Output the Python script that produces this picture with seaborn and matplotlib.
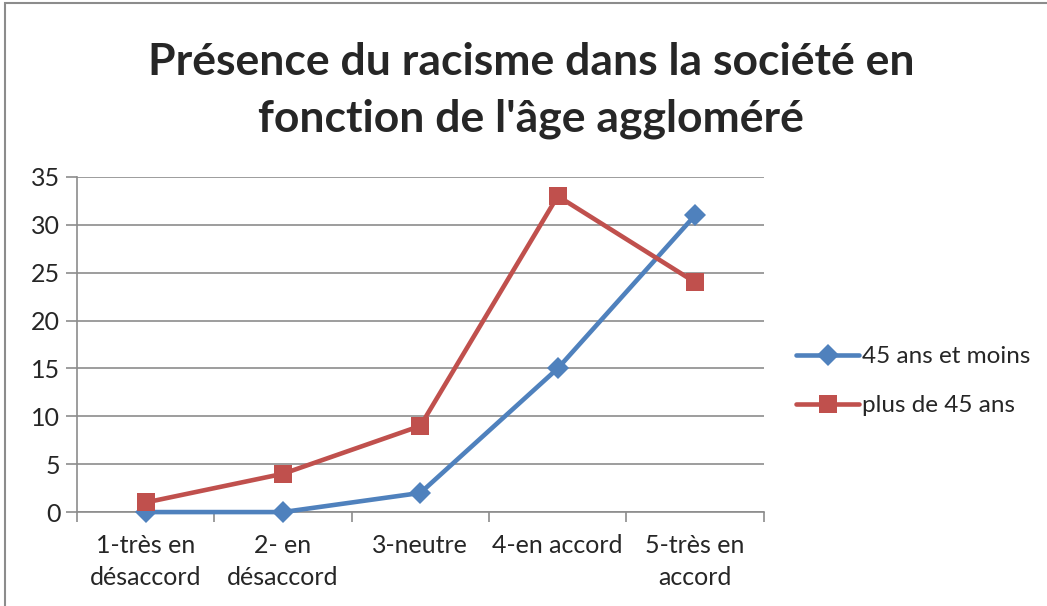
import numpy as np
import pandas as pd
import matplotlib.pyplot as plt
import seaborn as sns
from matplotlib.patches import Rectangle

categories = ["1-très en\ndésaccord", "2- en\ndésaccord", "3-neutre", "4-en accord", "5-très en\naccord"]
moins_45 = [0, 0, 2, 15, 31]
plus_45 = [1, 4, 9, 33, 24]
series_names = ["45 ans et moins", "plus de 45 ans"]

df = pd.DataFrame({
    "pos": list(range(len(categories))) * 2,
    "valeur": moins_45 + plus_45,
    "serie": [series_names[0]] * len(categories) + [series_names[1]] * len(categories),
})

sns.set_theme(style="white")
plt.rcParams["font.family"] = ["Lato", "DejaVu Sans"]

fig = plt.figure(figsize=(10.47, 6.06), dpi=100)
ax = fig.add_axes([0.0735, 0.155, 0.656, 0.553])

palette = {series_names[0]: "#4F81BD", series_names[1]: "#C0504D"}
markers = {series_names[0]: "D", series_names[1]: "s"}
sns.lineplot(data=df, x="pos", y="valeur", hue="serie", style="serie",
             markers=markers, dashes=False, palette=palette, linewidth=3.3,
             markersize=13, markeredgewidth=0, ax=ax, zorder=3)
for line in ax.get_lines():
    line.set_clip_on(False)
    if line.get_marker() == "D":
        line.set_markersize(11)

ax.set_xlim(-0.5, len(categories) - 0.5)
ax.set_ylim(0, 35)
ax.set_yticks(np.arange(0, 36, 5))
ax.yaxis.grid(True, color="#8c8c8c", linewidth=1.2)
ax.xaxis.grid(False)
ax.set_xticks(range(len(categories)))
ax.set_xticklabels(categories, fontsize=18, va="top", linespacing=1.45)
ax.set_xticks(np.arange(-0.5, len(categories)), minor=True)
ax.tick_params(axis="x", which="major", length=0, pad=16)
ax.tick_params(axis="x", which="minor", length=7, width=1.2, color="#8c8c8c", direction="out", bottom=True)
ax.tick_params(axis="y", length=8, width=1.2, color="#8c8c8c", direction="out", left=True, labelsize=18, pad=4)
ax.set_xlabel("")
ax.set_ylabel("")
for s in ["top", "right"]:
    ax.spines[s].set_visible(False)
ax.spines["left"].set_color("#8c8c8c")
ax.spines["bottom"].set_color("#8c8c8c")
ax.spines["left"].set_linewidth(1.2)
ax.spines["bottom"].set_linewidth(1.2)

leg = ax.legend(loc="center left", bbox_to_anchor=(1.015, 0.39), frameon=False,
                fontsize=17.5, handlelength=2.6, handletextpad=0.1, labelspacing=1.15)

fig.text(0.507, 0.85, "Présence du racisme dans la société en\nfonction de l'âge aggloméré",
         ha="center", va="center", fontsize=32, fontweight="bold", linespacing=1.5)

fig.patches.append(Rectangle((5 / 1047, -0.1), 1.2, (1 - 3 / 606) + 0.1, transform=fig.transFigure,
                             fill=False, edgecolor="#8c8c8c", linewidth=1.5))

fig.savefig("out.png", dpi=100)
